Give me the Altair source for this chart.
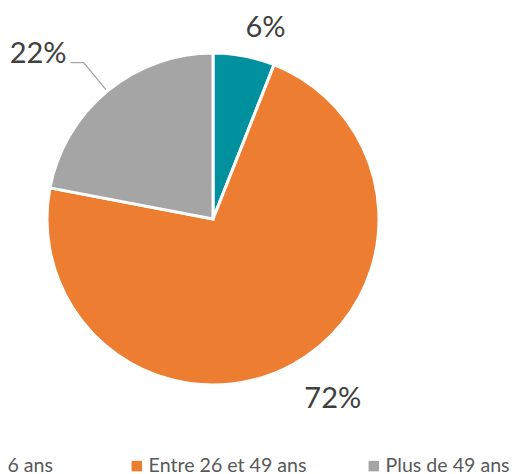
import math
import altair as alt
import pandas as pd

categories = ["Moins de 26 ans", "Entre 26 et 49 ans", "Plus de 49 ans"]
values = [6, 72, 22]
colors = ["#00909E", "#ED7D31", "#A5A5A5"]
labels = [f"{v}%" for v in values]

W, H = 410, 422
R = 166
cx, cy = W / 2, H / 2
FONT = "Lato"

df = pd.DataFrame({"cat": categories, "value": values, "idx": list(range(len(values))), "label": labels})

# leader line for the last slice, derived from its mid angle
total = sum(values)
mid = (sum(values[:2]) + values[2] / 2) / total * 2 * math.pi
px = [cx + math.sin(mid) * (R + 2), cx + math.sin(mid) * 203]
py = [cy - math.cos(mid) * (R + 2), cy - math.cos(mid) * 203]
px.append(px[1] - 13)
py.append(py[1])
leader = pd.DataFrame({"x": px, "y": py, "o": [0, 1, 2]})

base = alt.Chart(df)
theta = alt.Theta("value:Q", stack=True)
order = alt.Order("idx:Q")

pie = base.mark_arc(outerRadius=R, stroke="white", strokeWidth=3).encode(
    theta=theta,
    order=order,
    color=alt.Color(
        "cat:N",
        scale=alt.Scale(domain=categories, range=colors),
        legend=alt.Legend(
            title=None,
            orient="none",
            legendX=-118,
            legendY=448,
            direction="horizontal",
            symbolType="square",
            symbolSize=110,
            symbolStrokeWidth=0,
            labelFont=FONT,
            labelFontSize=19.6,
            labelColor="#595959",
            labelOffset=2,
            labelLimit=0,
            columnPadding=57,
            gridAlign="all",
        ),
    ),
)

is_last = f"datum.cat == '{categories[2]}'"

text_right = base.mark_text(
    radius=200, align="left", baseline="middle", font=FONT, fontSize=29, color="#404040", dx=-5, dy=5
).encode(
    theta=theta,
    order=order,
    text="label:N",
    opacity=alt.condition(is_last, alt.value(0), alt.value(1)),
)

text_left = base.mark_text(
    radius=225, align="right", baseline="middle", font=FONT, fontSize=29, color="#404040", dx=-3, dy=8
).encode(
    theta=theta,
    order=order,
    text="label:N",
    opacity=alt.condition(is_last, alt.value(1), alt.value(0)),
)

line = alt.Chart(leader).mark_line(color="#A6A6A6", strokeWidth=1.3).encode(
    x=alt.X("x:Q", scale=None),
    y=alt.Y("y:Q", scale=None),
    order="o:Q",
)

chart = (
    alt.layer(pie, line, text_right, text_left)
    .properties(
        width=W,
        height=H,
        autosize=alt.AutoSizeParams(type="none"),
        padding={"left": 0, "top": 0, "right": 94, "bottom": 44},
    )
    .configure_view(stroke=None)
)

chart.save("out.html", embed_options={"renderer": "svg", "actions": False})
